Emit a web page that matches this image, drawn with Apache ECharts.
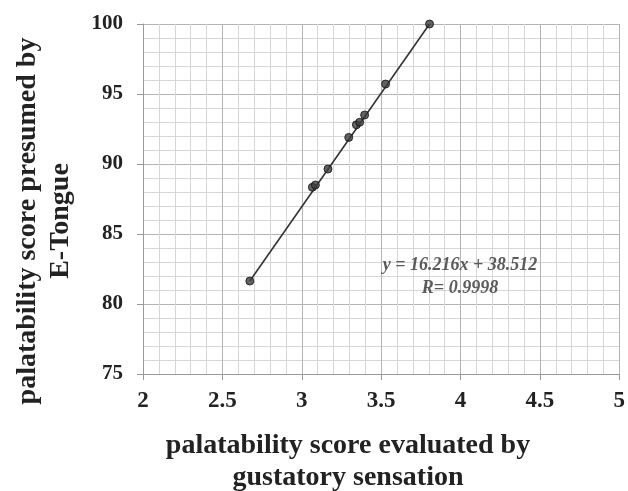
<!DOCTYPE html>
<html>
<head>
<meta charset="utf-8">
<script src="https://cdn.jsdelivr.net/npm/echarts@6/dist/echarts.min.js"></script>
<style>
  html, body { margin: 0; padding: 0; background: #fff; }
  #chart { width: 628px; height: 491px; }
</style>
</head>
<body>
<div id="chart"></div>
<script>
// gustatory score (x) vs e-tongue score (y)
const gustatory = [2.673, 3.067, 3.086, 3.165, 3.296, 3.344, 3.365, 3.396, 3.528, 3.805];
const eTongue   = [81.64, 88.34, 88.5, 89.64, 91.9, 92.8, 92.98, 93.5, 95.71, 100.0];
// trend line end points as drawn
const trendX = [2.673, 3.805];
const trendY = [81.64, 100.0];
const xTicks = ['2', '2.5', '3', '3.5', '4', '4.5', '5'];
const yTicks = ['75', '80', '85', '90', '95', '100'];

const serif = '"Liberation Serif", "DejaVu Serif", serif';

const chart = echarts.init(document.getElementById('chart'), null, { renderer: 'canvas' });

const points = gustatory.map((x, i) => [x, eTongue[i]]);
const trend = trendX.map((x, i) => [x, trendY[i]]);

chart.setOption({
  animation: false,
  backgroundColor: '#fff',
  grid: { left: 143, right: 8, top: 24, bottom: 117 },
  xAxis: {
    type: 'value',
    min: 2, max: 5, interval: 0.5,
    axisLine: { show: true, lineStyle: { color: '#999', width: 1 } },
    axisTick: { show: true, length: 6, lineStyle: { color: '#999' } },
    axisLabel: {
      color: '#222', fontFamily: serif, fontWeight: 'bold', fontSize: 23, margin: 16,
      formatter: (v) => xTicks.find((t) => Number(t) === v) || ''
    },
    splitLine: { show: true, lineStyle: { color: '#b4b4b4', width: 1 } },
    minorTick: { show: false, splitNumber: 5 },
    minorSplitLine: { show: true, lineStyle: { color: '#d6d6d6', width: 1 } }
  },
  yAxis: {
    type: 'value',
    min: 75, max: 100, interval: 5,
    axisLine: { show: true, lineStyle: { color: '#999', width: 1 } },
    axisTick: { show: true, length: 6, lineStyle: { color: '#999' } },
    axisLabel: {
      color: '#222', fontFamily: serif, fontWeight: 'bold', fontSize: 21, margin: 20,
      formatter: (v) => yTicks.find((t) => Number(t) === v) || ''
    },
    splitLine: { show: true, lineStyle: { color: '#b4b4b4', width: 1 } },
    minorTick: { show: false, splitNumber: 5 },
    minorSplitLine: { show: true, lineStyle: { color: '#d6d6d6', width: 1 } }
  },
  series: [
    {
      type: 'line',
      data: trend,
      symbol: 'none',
      lineStyle: { color: '#333', width: 1.6 },
      z: 2
    },
    {
      type: 'scatter',
      data: points,
      symbolSize: 8,
      itemStyle: { color: '#3c3c3c', borderColor: '#111', borderWidth: 1 },
      z: 3
    }
  ],
  graphic: [
    {
      type: 'text',
      x: 460, y: 277,
      z: 10,
      style: {
        text: 'y = 16.216x + 38.512\nR= 0.9998',
        textAlign: 'center', textVerticalAlign: 'middle',
        font: 'italic bold 18px ' + serif,
        fill: '#5a5a5a',
        lineHeight: 23
      }
    },
    {
      type: 'text',
      x: 348, y: 462,
      style: {
        text: 'palatability score evaluated by\ngustatory sensation',
        textAlign: 'center', textVerticalAlign: 'middle',
        font: 'bold 28px ' + serif,
        fill: '#222',
        lineHeight: 32
      }
    },
    {
      type: 'text',
      x: 44, y: 221,
      rotation: Math.PI / 2,
      style: {
        text: 'palatability score presumed by\nE-Tongue',
        textAlign: 'center', textVerticalAlign: 'middle',
        font: 'bold 28px ' + serif,
        fill: '#222',
        lineHeight: 33
      }
    }
  ]
});
</script>
</body>
</html>
